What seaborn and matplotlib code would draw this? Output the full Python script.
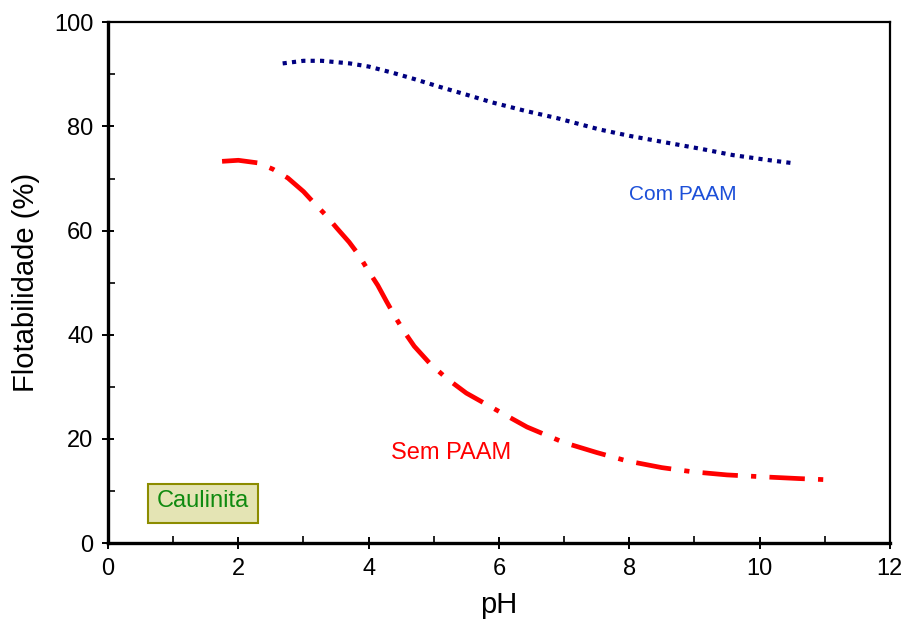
import matplotlib
matplotlib.use('Agg')
import matplotlib.pyplot as plt
from matplotlib.patches import Rectangle
from matplotlib.ticker import MultipleLocator
import pandas as pd
import seaborn as sns

# curva com PAAM
ph_com = [2.68, 3.0, 3.28, 3.71, 4.0, 4.37, 4.7, 5.09, 5.5, 5.9, 6.4, 6.89,
          7.55, 8.0, 8.57, 9.1, 9.59, 10.1, 10.54]
flot_com = [92.1, 92.6, 92.6, 92.1, 91.5, 90.3, 89.1, 87.6, 86.1, 84.6, 83.0, 81.6,
            79.4, 78.2, 76.9, 75.7, 74.5, 73.6, 72.9]

# curva sem PAAM
ph_sem = [1.75, 2.0, 2.3, 2.53, 2.76, 3.0, 3.14, 3.34, 3.51, 3.7, 3.85, 3.99,
          4.14, 4.27, 4.4, 4.54, 4.7, 4.94, 5.2, 5.5, 5.97, 6.43, 7.0, 7.5,
          7.96, 8.5, 8.97, 9.5, 10.1, 10.6, 11.18]
flot_sem = [73.3, 73.5, 73.0, 71.8, 70.1, 67.5, 65.6, 63.0, 60.5, 57.8, 55.3, 52.4,
            49.5, 46.5, 43.6, 40.7, 37.8, 34.5, 31.6, 28.8, 25.5, 22.3, 19.3, 17.4,
            15.8, 14.5, 13.7, 13.1, 12.7, 12.4, 12.1]

df_com = pd.DataFrame({'pH': ph_com, 'Flotabilidade': flot_com})
df_sem = pd.DataFrame({'pH': ph_sem, 'Flotabilidade': flot_sem})

sns.set_style('white')
plt.rcParams['font.family'] = ['Liberation Sans', 'DejaVu Sans']
plt.rcParams['text.color'] = 'black'
plt.rcParams['axes.labelcolor'] = 'black'
plt.rcParams['xtick.color'] = 'black'
plt.rcParams['ytick.color'] = 'black'

fig = plt.figure(figsize=(9.08, 6.36), dpi=100)
ax = fig.add_axes([0.119, 0.146, 0.861, 0.819])

sns.lineplot(data=df_com, x='pH', y='Flotabilidade', ax=ax, color='#000080',
             linewidth=3.0, sort=False, estimator=None)
ax.lines[-1].set_dashes([1.0, 1.25])
ax.lines[-1].set_dash_capstyle('butt')

sns.lineplot(data=df_sem, x='pH', y='Flotabilidade', ax=ax, color='#ff0000',
             linewidth=3.4, sort=False, estimator=None)
ax.lines[-1].set_dashes([7.5, 2.8, 1.1, 2.8])
ax.lines[-1].set_dash_capstyle('butt')

ax.set_xlim(0, 12)
ax.set_ylim(0, 100)
ax.xaxis.set_major_locator(MultipleLocator(2))
ax.xaxis.set_minor_locator(MultipleLocator(1))
ax.yaxis.set_major_locator(MultipleLocator(20))
ax.yaxis.set_minor_locator(MultipleLocator(10))
ax.tick_params(which='major', direction='inout', length=9, width=1.4,
               labelsize=17, pad=6)
ax.tick_params(which='minor', direction='in', length=5, width=1.2)
ax.tick_params(axis='x', which='both', bottom=True)
ax.tick_params(axis='y', which='both', left=True)

ax.set_xlabel('pH', fontsize=21, labelpad=8)
ax.set_ylabel('Flotabilidade (%)', fontsize=21, labelpad=10)

for s in ['left', 'bottom']:
    ax.spines[s].set_linewidth(2.4)
    ax.spines[s].set_color('black')
for s in ['top', 'right']:
    ax.spines[s].set_linewidth(1.6)
    ax.spines[s].set_color('black')

ax.text(8.82, 67.0, 'Com PAAM', color='#1c4fd8', fontsize=15, ha='center', va='center')
ax.text(5.27, 17.3, 'Sem PAAM', color='#ff0000', fontsize=17, ha='center', va='center')

ax.add_patch(Rectangle((0.051, 0.038), 0.141, 0.075, transform=ax.transAxes,
                       facecolor='#e4e4b4', edgecolor='#8c8c00', linewidth=1.5))
ax.text(0.1215, 0.069, 'Caulinita', transform=ax.transAxes, color='#108a10',
        fontsize=17, ha='center', va='baseline')

fig.savefig('out.png', dpi=100)
